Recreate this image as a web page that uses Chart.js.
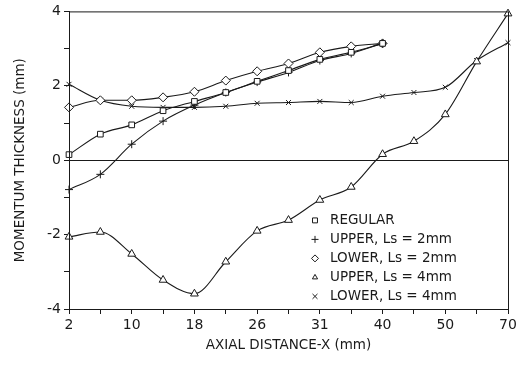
<!DOCTYPE html>
<html>
<head>
<meta charset="utf-8">
<script src="https://cdn.jsdelivr.net/npm/chart.js@4.4.0/dist/chart.umd.min.js"></script>
<style>
    html, body { margin: 0; padding: 0; background: #fff; }
    #wrap { width: 522px; height: 368px; }
</style>
</head>
<body>
<div id="wrap"><canvas id="chart"></canvas></div>
<script>
// Axial stations (evenly spaced on the plot) and their labels in mm
const xLabels = ['2', '10', '18', '26', '31', '40', '50', '70'];
const stations = [0, 0.5, 1, 1.5, 2, 2.5, 3, 3.5, 4, 4.5, 5, 5.5, 6, 6.5, 7];

// Momentum thickness (mm) at each station
const regular = [0.15, 0.70, 0.95, 1.33, 1.58, 1.82, 2.12, 2.41, 2.71, 2.90, 3.14];
const upper2  = [-0.79, -0.38, 0.43, 1.05, 1.48, 1.82, 2.10, 2.36, 2.68, 2.87, 3.14];
const lower2  = [1.42, 1.61, 1.61, 1.69, 1.84, 2.14, 2.39, 2.60, 2.90, 3.06, 3.14];
const upper4  = [-2.06, -1.93, -2.52, -3.22, -3.59, -2.73, -1.90, -1.61, -1.07, -0.72, 0.16, 0.51, 1.23, 2.65, 3.94];
const lower4  = [2.04, 1.61, 1.45, 1.42, 1.42, 1.45, 1.53, 1.55, 1.58, 1.55, 1.72, 1.82, 1.96, 2.68, 3.16];

const yTicks = [-4, -2, 0, 2, 4];

const ink = '#1a1a1a';
const font = 'DejaVu Sans';

function series(label, values, style, radius) {
    return {
        label: label,
        data: values.map((v, i) => ({ x: stations[i], y: v })),
        showLine: true,
        cubicInterpolationMode: 'monotone',
        borderColor: ink,
        borderWidth: 1.1,
        backgroundColor: '#fff',
        pointStyle: style,
        pointRadius: radius,
        pointBorderColor: ink,
        pointBorderWidth: 1,
        pointBackgroundColor: '#fff',
        clip: false
    };
}

// Frame around the plot area
const frame = {
    id: 'frame',
    afterDraw(chart) {
        const { ctx, chartArea: a } = chart;
        ctx.save();
        ctx.strokeStyle = ink;
        ctx.lineWidth = 1;
        ctx.strokeRect(a.left + 0.5, a.top + 0.5, a.right - a.left, a.bottom - a.top);
        ctx.restore();
    }
};

// Legend drawn inside the lower right of the plot
const insetLegend = {
    id: 'insetLegend',
    afterDraw(chart) {
        const { ctx, chartArea: a } = chart;
        const x0 = a.left + 246;
        const y0 = a.top + 209;
        ctx.save();
        ctx.font = '13.5px "' + font + '"';
        ctx.textBaseline = 'middle';
        chart.data.datasets.forEach((ds, i) => {
            const y = y0 + i * 19;
            ctx.strokeStyle = ink;
            ctx.fillStyle = '#fff';
            ctx.lineWidth = 1;
            Chart.helpers.drawPoint(ctx, {
                pointStyle: ds.pointStyle,
                radius: ds.pointStyle === 'triangle' ? 3 : 3.5,
                borderWidth: 1
            }, x0, y);
            ctx.fillStyle = ink;
            ctx.fillText(ds.label, x0 + 15, y);
        });
        ctx.restore();
    }
};

new Chart(document.getElementById('chart'), {
    type: 'scatter',
    data: {
        datasets: [
            series('REGULAR', regular, 'rect', 4),
            series('UPPER, Ls = 2mm', upper2, 'cross', 4),
            series('LOWER, Ls = 2mm', lower2, 'rectRot', 4.5),
            series('UPPER, Ls = 4mm', upper4, 'triangle', 4.5),
            series('LOWER, Ls = 4mm', lower4, 'crossRot', 3.5)
        ]
    },
    options: {
        responsive: true,
        maintainAspectRatio: false,
        animation: false,
        layout: { padding: { top: 11, right: 14, left: 0, bottom: 0 } },
        plugins: {
            legend: { display: false },
            tooltip: { enabled: false }
        },
        scales: {
            x: {
                type: 'linear',
                min: 0,
                max: 7,
                afterFit(scale) { scale.height = 59; },
                border: { color: ink },
                grid: { drawOnChartArea: false, tickLength: 5, color: ink },
                ticks: {
                    stepSize: 0.5,
                    autoSkip: false,
                    maxRotation: 0,
                    padding: 3,
                    color: ink,
                    font: { family: font, size: 14 },
                    callback: v => Number.isInteger(v) ? xLabels[v] : ''
                },
                title: {
                    display: true,
                    text: 'AXIAL DISTANCE-X (mm)',
                    color: ink,
                    font: { family: font, size: 13.5 },
                    padding: { top: 0, bottom: 14 }
                }
            },
            y: {
                min: -4,
                max: 4,
                afterFit(scale) { scale.width = 69; },
                border: { color: ink },
                grid: {
                    tickLength: 5,
                    tickColor: ink,
                    color: ctx => ctx.tick && ctx.tick.value === 0 ? ink : 'rgba(0,0,0,0)'
                },
                ticks: {
                    stepSize: 1,
                    padding: 3,
                    color: ink,
                    font: { family: font, size: 14 },
                    callback: v => yTicks.includes(v) ? String(v) : ''
                },
                title: {
                    display: true,
                    text: 'MOMENTUM THICKNESS (mm)',
                    color: ink,
                    font: { family: font, size: 13.5 },
                    padding: { top: 12, bottom: 4 }
                }
            }
        }
    },
    plugins: [frame, insetLegend]
});
</script>
</body>
</html>
